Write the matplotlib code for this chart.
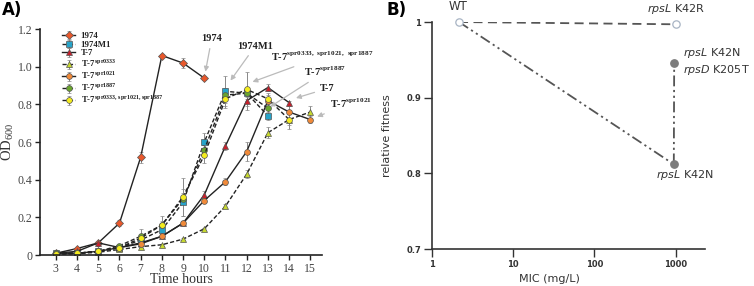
import numpy as np
import matplotlib
matplotlib.use("Agg")
import matplotlib.pyplot as plt

plt.rcParams['mathtext.fontset'] = 'custom'
plt.rcParams['mathtext.bf'] = 'Liberation Serif:bold'
plt.rcParams['mathtext.rm'] = 'Liberation Serif'
plt.rcParams['mathtext.it'] = 'DejaVu Sans:italic'

# ---- panel A data (OD600 vs time) ----
hours = np.arange(3, 16)
od_1974 = [0.01, 0.035, 0.065, 0.17, 0.52, 1.06, 1.02, 0.94]
od_1974m1 = [0.01, 0.01, 0.02, 0.04, 0.08, 0.135, 0.28, 0.60, 0.87, 0.86, 0.74]
od_t7 = [0.01, 0.02, 0.065, 0.04, 0.065, 0.10, 0.17, 0.32, 0.58, 0.82, 0.89, 0.81]
od_spr0333 = [0.005, 0.008, 0.015, 0.03, 0.045, 0.055, 0.085, 0.14, 0.26, 0.43, 0.65, 0.72, 0.76]
od_spr1021 = [0.01, 0.01, 0.02, 0.04, 0.06, 0.10, 0.17, 0.29, 0.39, 0.55, 0.82, 0.76, 0.72]
od_spr1887 = [0.01, 0.01, 0.02, 0.05, 0.10, 0.16, 0.30, 0.56, 0.85, 0.86, 0.78]
od_triple = [0.005, 0.01, 0.02, 0.04, 0.09, 0.16, 0.31, 0.53, 0.83, 0.88, 0.83, 0.72]

err_1974 = [0.003, 0.005, 0.005, 0.015, 0.03, 0.01, 0.025, 0.01]
err_1974m1 = [0.003, 0.003, 0.005, 0.005, 0.01, 0.02, 0.07, 0.05, 0.08, 0.03, 0.02]
err_t7 = [0.003, 0.003, 0.005, 0.005, 0.01, 0.01, 0.01, 0.02, 0.02, 0.05, 0.02, 0.01]
err_spr0333 = [0.002, 0.002, 0.003, 0.005, 0.005, 0.005, 0.005, 0.005, 0.01, 0.02, 0.03, 0.03, 0.03]
err_spr1021 = [0.003, 0.003, 0.003, 0.005, 0.005, 0.01, 0.01, 0.01, 0.02, 0.05, 0.03, 0.03, 0.02]
err_spr1887 = [0.003, 0.003, 0.005, 0.01, 0.04, 0.02, 0.03, 0.04, 0.04, 0.02, 0.03]
err_triple = [0.002, 0.003, 0.005, 0.005, 0.02, 0.05, 0.1, 0.04, 0.05, 0.09, 0.03, 0.05]

series = [
    ("1974", od_1974, err_1974, "D", "#e8582c", "-"),
    ("1974M1", od_1974m1, err_1974m1, "s", "#27a3c8", "--"),
    ("T-7", od_t7, err_t7, "^", "#c8202c", "-"),
    ("T-7$^{\\mathbf{spr0333}}$", od_spr0333, err_spr0333, "^", "#c6d82e", "--"),
    ("T-7$^{\\mathbf{spr1021}}$", od_spr1021, err_spr1021, "o", "#f08a3a", "-"),
    ("T-7$^{\\mathbf{spr1887}}$", od_spr1887, err_spr1887, "o", "#6aa52e", "--"),
    ("T-7$^{\\mathbf{spr0333,spr1021,spr1887}}$", od_triple, err_triple, "o", "#f4ec1e", "--"),
]

# ---- panel B data ----
strains = ["WT", "rpsL K42R", "rpsL K42N", "rpsL K42N rpsD K205T"]
mic = [2.15, 1000, 950, 960]
fitness = [1.0, 0.997, 0.812, 0.946]

fig = plt.figure(figsize=(7.54, 2.86), dpi=100)

# ---------------- panel A ----------------
axA = fig.add_axes([0.053, 0.108, 0.374, 0.79])
serif = "Liberation Serif"
for name, od, err, mk, col, ls in series:
    t = hours[:len(od)]
    axA.errorbar(t, od, yerr=err, color="#222222", ls=ls, lw=1.0, marker=mk,
                 ms=4.2, mfc=col, mec="#555555", mew=0.5, ecolor="#888888",
                 elinewidth=0.7, capsize=1.5, capthick=0.6, label=name,
                 dashes=(3, 1.6) if ls == "--" else (None, None))

axA.set_xlim(2.25, 15.55)
axA.set_ylim(0, 1.2)
axA.set_xticks(hours)
axA.set_xticklabels([str(h) for h in hours], fontfamily=serif, fontsize=8.5)
axA.set_yticks([0, 0.2, 0.4, 0.6, 0.8, 1.0, 1.2])
axA.set_yticklabels(["0", "0.2", "0.4", "0.6", "0.8", "1.0", "1.2"], fontfamily=serif, fontsize=8.5)
axA.tick_params(direction="out", length=3.5, width=1.0, color="#222222", labelcolor="#444444", pad=2)
for s in ["top", "right"]:
    axA.spines[s].set_visible(False)
for s in ["left", "bottom"]:
    axA.spines[s].set_linewidth(1.2)
    axA.spines[s].set_color("#222222")
axA.set_xlabel("Time hours", fontfamily=serif, fontsize=10, color="#333333", labelpad=-1)
axA.set_ylabel("OD$_{600}$", fontfamily=serif, fontsize=10.5, color="#333333", labelpad=1)

leg = axA.legend(loc="upper left", bbox_to_anchor=(0.06, 1.01), frameon=False,
                 prop={"family": serif, "weight": "bold", "size": 6.3},
                 handlelength=1.5, handletextpad=0.6, labelspacing=0.04,
                 borderaxespad=0.2)
for txt in leg.get_texts():
    txt.set_color("#222222")

arrow = dict(arrowstyle="-|>", color="#bbbbbb", lw=0.9, mutation_scale=7)
notes = [
    ("1974", (10.03, 0.96), (10.35, 1.15)),
    ("1974M1", (11.16, 0.915), (12.4, 1.11)),
    ("T-7$^{\\mathbf{spr0333,\\ spr1021,\\ spr1887}}$", (12.15, 0.915), (15.55, 1.055)),
    ("T-7$^{\\mathbf{spr1887}}$", (13.0, 0.78), (15.7, 0.975)),
    ("T-7", (14.2, 0.83), (15.8, 0.885)),
    ("T-7$^{\\mathbf{spr1021}}$", (15.2, 0.73), (16.9, 0.805)),
]
for txt, tip, pos in notes:
    axA.annotate(txt, xy=tip, xytext=pos, ha="center", va="center",
                 fontfamily=serif, fontweight="bold", fontsize=7.5, color="#222222",
                 arrowprops=arrow, annotation_clip=False)

fig.text(0.003, 0.995, "A)", fontsize=12, fontweight="bold", fontfamily="DejaVu Sans", va="top")

# ---------------- panel B ----------------
axB = fig.add_axes([0.573, 0.129, 0.362, 0.794])
axB.set_xscale("log")
axB.plot([mic[0], mic[1]], [fitness[0], fitness[1]], color="#555555", lw=1.3,
         dashes=(5, 3), zorder=1)
axB.plot([mic[0], mic[2]], [fitness[0], fitness[2]], color="#555555", lw=1.3,
         dashes=(6, 2, 1.2, 2, 1.2, 2), zorder=1)
axB.plot([mic[2], mic[3]], [fitness[2], fitness[3]], color="#555555", lw=1.3,
         dashes=(6, 2, 1.2, 2, 1.2, 2), zorder=1)
axB.scatter(mic[:2], fitness[:2], s=28, facecolor="white", edgecolor="#a8b4c4", lw=0.9, zorder=3, clip_on=False)
axB.scatter(mic[2:], fitness[2:], s=28, facecolor="#7c7c7c", edgecolor="#7c7c7c", zorder=3, clip_on=False)

axB.set_xlim(1, 2300)
axB.set_ylim(0.7, 1.0)
axB.set_xticks([1, 10, 100, 1000])
axB.set_xticklabels(["1", "10", "100", "1000"])
axB.minorticks_off()
axB.set_yticks([0.7, 0.8, 0.9, 1.0])
axB.set_yticklabels(["0.7", "0.8", "0.9", "1"])
axB.tick_params(direction="out", length=6, width=1.0, color="#333333", labelsize=6, pad=2)
for lab in axB.get_xticklabels() + axB.get_yticklabels():
    lab.set_fontweight("bold")
    lab.set_color("#333333")
for s in ["top", "right"]:
    axB.spines[s].set_visible(False)
for s in ["left", "bottom"]:
    axB.spines[s].set_linewidth(1.2)
    axB.spines[s].set_color("#333333")
axB.set_xlabel("MIC (mg/L)", fontsize=8, color="#333333")
axB.xaxis.set_label_coords(0.43, -0.11)
axB.set_ylabel("relative fitness", fontsize=8, color="#333333", labelpad=10)

axB.text(mic[0] * 0.96, 1.02, "WT", fontsize=8.5, ha="center", va="center", color="#333333", clip_on=False)
axB.text(1000, 1.017, "$\\it{rpsL}$ K42R", fontsize=8, ha="center", va="center", color="#333333", clip_on=False)
axB.text(1230, 0.959, "$\\it{rpsL}$ K42N", fontsize=8, ha="left", va="center", color="#333333")
axB.text(1230, 0.936, "$\\it{rpsD}$ K205T", fontsize=8, ha="left", va="center", color="#333333")
axB.text(1300, 0.798, "$\\it{rpsL}$ K42N", fontsize=8, ha="center", va="center", color="#333333")

fig.text(0.512, 0.995, "B)", fontsize=12, fontweight="bold", fontfamily="DejaVu Sans", va="top")

fig.savefig("out.png", dpi=100)
